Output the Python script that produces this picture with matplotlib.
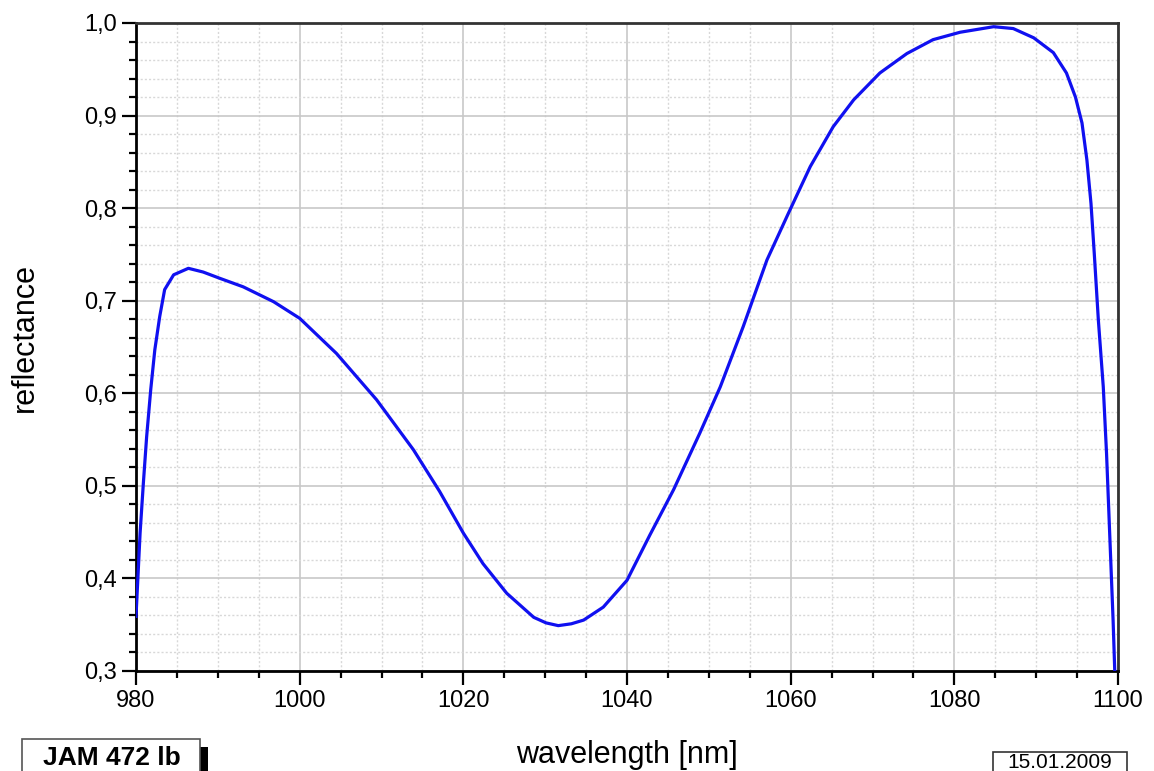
import matplotlib.pyplot as plt
from matplotlib.ticker import MultipleLocator, FuncFormatter
from matplotlib.patches import Rectangle

plt.rcParams['font.family'] = ['Liberation Sans', 'DejaVu Sans']

# wavelength [nm] / reflectance
wavelength = [980.0, 980.2, 980.5, 980.9, 981.3, 981.8, 982.3, 982.9, 983.5,
              984.6, 986.4, 988.2, 990.3, 993.1, 996.8, 1000.0, 1004.5,
              1009.4, 1013.9, 1017.1, 1020.0, 1022.4, 1025.3, 1028.6, 1030.1,
              1031.6, 1033.2, 1034.7, 1037.1, 1040.0, 1042.8, 1045.7, 1048.9,
              1051.4, 1054.2, 1057.1, 1059.7, 1062.4, 1065.2, 1067.7, 1070.9,
              1074.2, 1077.4, 1080.7, 1084.8, 1087.2, 1089.7, 1092.1, 1093.7,
              1094.8, 1095.6, 1096.2, 1096.7, 1097.1, 1097.6, 1098.2, 1098.6,
              1099.0, 1099.4, 1099.6]
reflectance = [0.359, 0.395, 0.449, 0.503, 0.553, 0.604, 0.647, 0.683, 0.712,
               0.728, 0.735, 0.731, 0.724, 0.715, 0.699, 0.681, 0.643,
               0.593, 0.539, 0.494, 0.449, 0.416, 0.384, 0.358, 0.352,
               0.349, 0.351, 0.355, 0.369, 0.398, 0.447, 0.496, 0.557,
               0.607, 0.672, 0.744, 0.794, 0.845, 0.888, 0.917, 0.946,
               0.967, 0.982, 0.990, 0.996, 0.994, 0.984, 0.968, 0.946,
               0.920, 0.892, 0.852, 0.805, 0.751, 0.679, 0.607, 0.535,
               0.445, 0.355, 0.301]

sample_name = 'JAM 472 lb'
date_label = '15.01.2009'

fig = plt.figure(figsize=(11.54, 7.71), dpi=100)
ax = fig.add_axes([136/1154, 1-671/771, (1118-136)/1154, (671-23)/771])

ax.plot(wavelength, reflectance, color='#1010f0', lw=2.3, zorder=3,
        solid_joinstyle='round')

ax.set_xlim(980, 1100)
ax.set_ylim(0.3, 1.0)
ax.xaxis.set_major_locator(MultipleLocator(20))
ax.xaxis.set_minor_locator(MultipleLocator(5))
ax.yaxis.set_major_locator(MultipleLocator(0.1))
ax.yaxis.set_minor_locator(MultipleLocator(0.02))
ax.yaxis.set_major_formatter(FuncFormatter(lambda v, p: f'{v:.1f}'.replace('.', ',')))

ax.grid(True, which='major', color='#c8c8c8', lw=1.2)
ax.grid(True, which='minor', color='#d8d8d8', lw=1.0, ls=(0, (1.5, 1.5)))
ax.set_axisbelow(True)

ax.tick_params(which='major', direction='out', length=10, width=1.6, labelsize=17, pad=4, colors='black')
ax.tick_params(which='minor', direction='out', length=5, width=1.6)
for s in ['left', 'bottom']:
    ax.spines[s].set_linewidth(2)
    ax.spines[s].set_color('black')
for s in ['top', 'right']:
    ax.spines[s].set_linewidth(2)
    ax.spines[s].set_color('#333333')

fig.text(25/1154, 1-338/771, 'reflectance', rotation=90, fontsize=22, ha='center', va='center')
fig.text(627/1154, 1-755/771, 'wavelength [nm]', fontsize=22, ha='center', va='center')

# sample box with shadow
fig.patches.append(Rectangle((200/1154, 0), 8/1154, 24/771, transform=fig.transFigure,
                             facecolor='black', edgecolor='none'))
fig.patches.append(Rectangle((22/1154, -0.02), 178/1154, 32/771 + 0.02, transform=fig.transFigure,
                             facecolor='white', edgecolor='#555555', lw=1.2))
fig.text(112/1154, 1-758/771, sample_name, fontsize=19, fontweight='bold', ha='center', va='center')

# date box
fig.patches.append(Rectangle((993/1154, -0.02), 134/1154, 19/771 + 0.02, transform=fig.transFigure,
                             facecolor='white', edgecolor='#333333', lw=1.2))
fig.text(1060/1154, 1-763/771, date_label, fontsize=15, ha='center', va='center')

fig.savefig('out.png', dpi=100)
